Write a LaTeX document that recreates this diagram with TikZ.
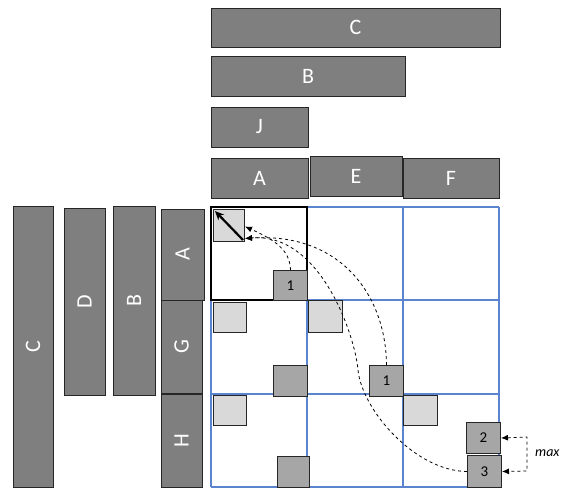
\documentclass[tikz,border=0pt]{standalone}
\usepackage{fontspec}
\setmainfont{Carlito}
\usetikzlibrary{arrows.meta}
\definecolor{barfill}{HTML}{7F7F7F}
\definecolor{lightsq}{HTML}{D9D9D9}
\definecolor{darksq}{HTML}{A6A6A6}
\definecolor{gridblue}{HTML}{5B84D0}
\tikzset{
  bar/.style={draw=black!85,line width=1pt,fill=barfill,text=white,inner sep=0pt,font=\fontsize{22}{26}\selectfont},
  vbar/.style={bar,rotate=90},
  lightbox/.style={draw=black!85,line width=1pt,fill=lightsq,inner sep=0pt,anchor=north west},
  darkbox/.style={draw=black!85,line width=1pt,fill=darksq,inner sep=0pt,anchor=north west,font=\fontsize{15}{18}\selectfont},
  link/.style={dashed,line width=0.8pt,-{Latex[length=7pt,width=6pt]}}
}
\begin{document}
\begin{tikzpicture}[x=1pt,y=-1pt]
        \useasboundingbox (0,0) rectangle (563,491);
        % bars on top
        \node[bar,minimum width=289,minimum height=39] (topC) at (355.5,27.5) {C};
        \node[bar,minimum width=194,minimum height=40] (topB) at (308,76) {B};
        \node[bar,minimum width=97,minimum height=40] (topJ) at (259.5,127) {J};
        \node[bar,minimum width=97,minimum height=40] (topA) at (259.5,178) {A};
        \node[bar,minimum width=92,minimum height=40] (topE) at (356,176) {E};
        \node[bar,minimum width=96,minimum height=40] (topF) at (451,178) {F};
        % bars on the left
        \node[vbar,minimum width=281,minimum height=40] (leftC) at (33,346.5) {C};
        \node[vbar,minimum width=187,minimum height=41] (leftD) at (84.5,301.5) {D};
        \node[vbar,minimum width=189,minimum height=42] (leftB) at (134,300.5) {B};
        \node[vbar,minimum width=91,minimum height=43] (leftA) at (182.5,254.5) {A};
        \node[vbar,minimum width=93,minimum height=41] (leftG) at (181.5,346.5) {G};
        \node[vbar,minimum width=93,minimum height=41] (leftH) at (181.5,440.5) {H};
        % grid
        \foreach \gx in {211,307,403,499}
          \draw[gridblue,line width=1.3pt] (\gx,207) -- (\gx,487);
        \foreach \gy in {207,300,394,487}
          \draw[gridblue,line width=1.3pt] (211,\gy) -- (499,\gy);
        \draw[line width=2.2pt] (211,207) rectangle (307,300);
        % blocks
        \node[lightbox,minimum width=31,minimum height=32] (l1) at (213,209) {};
        \node[lightbox,minimum width=33,minimum height=30] (l2) at (213,302) {};
        \node[lightbox,minimum width=34,minimum height=32] (l3) at (308,300) {};
        \node[lightbox,minimum width=33,minimum height=30] (l4) at (213,395) {};
        \node[lightbox,minimum width=34,minimum height=30] (l5) at (403,395) {};
        \node[darkbox,minimum width=34,minimum height=30] (d1) at (273,270) {1};
        \node[darkbox,minimum width=34,minimum height=31] (d2) at (273,365) {};
        \node[darkbox,minimum width=34,minimum height=31] (d3) at (369,365) {1};
        \node[darkbox,minimum width=32,minimum height=31] (d4) at (277,456) {};
        \node[darkbox,minimum width=34,minimum height=31] (d5) at (466,422) {2};
        \node[darkbox,minimum width=34,minimum height=32] (d6) at (467,455) {3};
        \draw[line width=2.2pt,-{Stealth[length=9pt,width=8pt]}] ([shift={(-2,-2)}]l1.south east) -- ([shift={(2,2)}]l1.north west);
        % dashed links
        \coordinate (hitA) at ([yshift=-13]l1.east);
        \coordinate (hitB) at ([yshift=-1]l1.east);
        \coordinate (bend) at (358,370);
        \draw[link] (d1.north) .. controls (290,250) and (275,240) .. (hitB);
        \draw[link] (d3.north) .. controls (386,295) and (340,232) .. (hitA);
        \draw[link] (d6.west) .. controls (415,471) and (362,410) .. (bend)
                              .. controls (355,335) and (320,232) .. (hitA);
        \coordinate (br1) at (527,437);
        \coordinate (br2) at (527,471);
        \draw[dashed,line width=0.8pt,{Latex[length=7pt,width=6pt]}-{Latex[length=7pt,width=6pt]}] (d5.east) -- (br1) -- (br2) -- (d6.east);
        \node[anchor=west,font=\itshape\fontsize{14}{16}\selectfont,inner sep=0pt] (maxlbl) at (535,453) {max};
\end{tikzpicture}
\end{document}
